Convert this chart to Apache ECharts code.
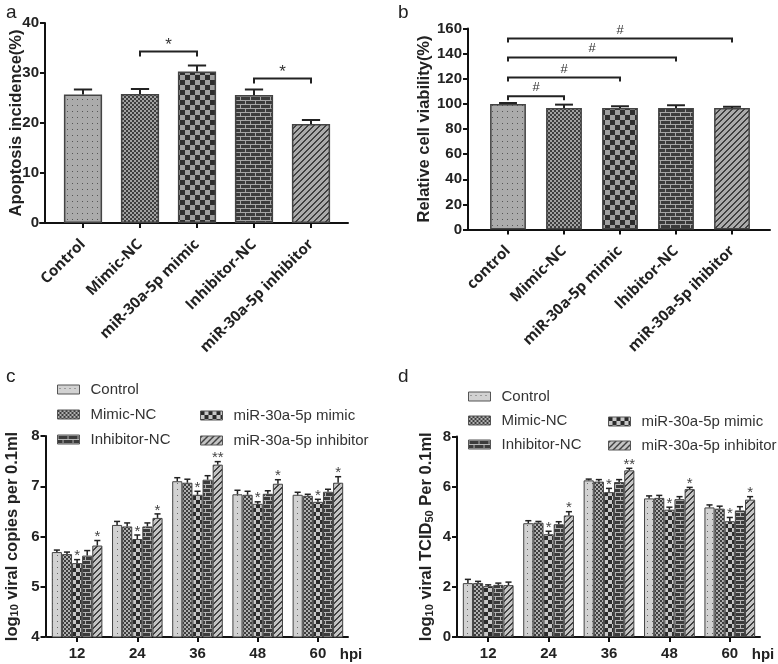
<!DOCTYPE html>
<html><head><meta charset="utf-8">
<script src="https://cdn.jsdelivr.net/npm/echarts@6/dist/echarts.min.js"></script>
<style>html,body{margin:0;padding:0;background:#fff}#c{width:778px;height:664px}</style>
</head><body><div id="c"></div>
<script>
// ---------- DATA ----------
const aCategories = ['Control', 'Mimic-NC', 'miR-30a-5p mimic', 'Inhibitor-NC', 'miR-30a-5p inhibitor'];
const aValues = [25.7, 25.8, 30.3, 25.6, 19.8];
const aErrors = [1.0, 1.0, 1.2, 1.1, 0.8];
const aBrackets = [[1, 2, 34.3, '*'], [3, 4, 28.9, '*']];

const bCategories = ['control', 'Mimic-NC', 'miR-30a-5p mimic', 'Ihibitor-NC', 'miR-30a-5p ihibitor'];
const bValues = [99.9, 96.8, 96.8, 96.8, 96.8];
const bErrors = [0.8, 2.6, 1.3, 2.1, 0.9];
const bBrackets = [[0, 1, 106, '#'], [0, 2, 121, '#'], [0, 3, 137, '#'], [0, 4, 152, '#']];

const hpiLabels = ['12', '24', '36', '48', '60'];
const groupNames = ['Control', 'Mimic-NC', 'miR-30a-5p mimic', 'Inhibitor-NC', 'miR-30a-5p inhibitor'];

// panel c: log10 viral copies per 0.1ml
const cControl   = [5.69, 6.23, 7.10, 6.84, 6.83];
const cMimicNC   = [5.65, 6.20, 7.07, 6.83, 6.81];
const cMimic     = [5.47, 5.95, 6.83, 6.65, 6.69];
const cInhibNC   = [5.62, 6.20, 7.13, 6.85, 6.89];
const cInhib     = [5.82, 6.37, 7.43, 7.05, 7.07];
const cControlErr = [0.04, 0.07, 0.07, 0.08, 0.05];
const cMimicNCErr = [0.04, 0.07, 0.07, 0.07, 0.03];
const cMimicErr   = [0.07, 0.08, 0.07, 0.04, 0.05];
const cInhibNCErr = [0.10, 0.07, 0.08, 0.06, 0.05];
const cInhibErr   = [0.10, 0.08, 0.06, 0.08, 0.12];
const cSigMimic = ['*', '*', '*', '*', '*'];
const cSigInhib = ['*', '*', '**', '*', '*'];

// panel d: log10 viral TCID50 per 0.1ml
const dControl   = [2.15, 4.54, 6.25, 5.53, 5.17];
const dMimicNC   = [2.15, 4.56, 6.20, 5.55, 5.12];
const dMimic     = [2.03, 4.10, 5.78, 5.08, 4.62];
const dInhibNC   = [2.08, 4.50, 6.18, 5.50, 5.05];
const dInhib     = [2.07, 4.85, 6.65, 5.90, 5.48];
const dControlErr = [0.15, 0.10, 0.05, 0.10, 0.10];
const dMimicNCErr = [0.07, 0.05, 0.08, 0.10, 0.10];
const dMimicErr   = [0.05, 0.12, 0.15, 0.10, 0.15];
const dInhibNCErr = [0.07, 0.10, 0.10, 0.10, 0.15];
const dInhibErr   = [0.12, 0.15, 0.08, 0.07, 0.12];
const dSigMimic = ['', '*', '*', '*', '*'];
const dSigInhib = ['', '*', '**', '*', '*'];

// ---------- PATTERNS ----------
function tile(w, h, paint) {
  const c = document.createElement('canvas'); c.width = w; c.height = h;
  const g = c.getContext('2d'); paint(g, w, h);
  return { image: c, repeat: 'repeat' };
}
function dots(bg, fg) { return tile(5, 6, g => { g.fillStyle = bg; g.fillRect(0, 0, 5, 6); g.fillStyle = fg; g.fillRect(2, 3, 1, 1); }); }
function checker(s, c1, c2) { return tile(2 * s, 2 * s, g => { g.fillStyle = c2; g.fillRect(0, 0, 2 * s, 2 * s); g.fillStyle = c1; g.fillRect(0, 0, s, s); g.fillRect(s, s, s, s); }); }
function brick(bg, fg) { return tile(10, 8, g => { g.fillStyle = bg; g.fillRect(0, 0, 10, 8); g.fillStyle = fg; g.fillRect(0, 0, 10, 1); g.fillRect(0, 4, 10, 1); g.fillRect(0, 0, 1, 4); g.fillRect(5, 4, 1, 4); }); }
function hatch(bg, fg) { return tile(6, 6, g => { g.fillStyle = bg; g.fillRect(0, 0, 6, 6); g.fillStyle = fg; for (let x = 0; x < 6; x++) for (let y = 0; y < 6; y++) if ((x + y) % 6 < 2) g.fillRect(x, y, 1, 1); }); }

const patAB = [dots('#ababab', '#555'), checker(2, '#3e3e3e', '#a2a2a2'), checker(5, '#2e2e2e', '#9e9e9e'), brick('#3b3b3b', '#a5a5a5'), hatch('#ababab', '#404040')];
const patCD = [dots('#d2d2d2', '#666'), checker(2, '#3e3e3e', '#b0b0b0'), checker(4, '#2a2a2a', '#c8c8c8'), brick('#3b3b3b', '#b5b5b5'), hatch('#c4c4c4', '#404040')];

// ---------- RENDERERS ----------
const INK = '#222';
function errSingle(params, api) {
  const i = api.value(0), v = api.value(1), e = api.value(2);
  const p0 = api.coord([i, v]), p1 = api.coord([i, v + e]);
  const half = api.size([1, 0])[0] * 0.16;
  return { type: 'group', children: [
    { type: 'line', shape: { x1: p0[0], y1: p0[1], x2: p0[0], y2: p1[1] }, style: { stroke: INK, lineWidth: 2 } },
    { type: 'line', shape: { x1: p0[0] - half, y1: p1[1], x2: p0[0] + half, y2: p1[1] }, style: { stroke: INK, lineWidth: 2 } }
  ] };
}
function bracketRenderer(list, drop, fontSize, dy) {
  return function (params, api) {
    const b = list[params.dataIndex];
    const pA = api.coord([b[0], b[2]]), pB = api.coord([b[1], b[2]]);
    return { type: 'group', children: [
      { type: 'polyline', shape: { points: [[pA[0], pA[1] + drop], [pA[0], pA[1]], [pB[0], pB[1]], [pB[0], pB[1] + drop]] }, style: { stroke: INK, lineWidth: 2, fill: null } },
      { type: 'text', style: { text: b[3], x: (pA[0] + pB[0]) / 2, y: pA[1] + dy, align: 'center', verticalAlign: 'bottom', fontSize: fontSize, fontFamily: 'Liberation Sans', fill: '#333' } }
    ] };
  };
}
const GAP = 0.16;
function groupErrRenderer(labels) {
  return function (params, api) {
    const k = api.value(0), s = api.value(1), v = api.value(2), e = api.value(3);
    const band = api.size([1, 0])[0];
    const gw = band * (1 - GAP), bw = gw / 5;
    const p0 = api.coord([k, v]), p1 = api.coord([k, v + e]);
    const x = p0[0] - gw / 2 + bw * (s + 0.5);
    const ch = [
      { type: 'line', shape: { x1: x, y1: p0[1], x2: x, y2: p1[1] }, style: { stroke: INK, lineWidth: 1.5 } },
      { type: 'line', shape: { x1: x - bw * 0.3, y1: p1[1], x2: x + bw * 0.3, y2: p1[1] }, style: { stroke: INK, lineWidth: 1.5 } }
    ];
    const lab = labels[params.dataIndex];
    if (lab) ch.push({ type: 'text', style: { text: lab, x: x, y: p1[1] + 4, align: 'center', verticalAlign: 'bottom', fontSize: 15, fontFamily: 'Liberation Sans', fill: '#444' } });
    return { type: 'group', children: ch };
  };
}

function groupData(vals, errs, sigs) {
  const data = [], labels = [];
  for (let s = 0; s < vals.length; s++) for (let k = 0; k < vals[s].length; k++) {
    data.push([k, s, vals[s][k], errs[s][k]]); labels.push(sigs[s][k]);
  }
  return { data, labels };
}
const none = ['', '', '', '', ''];
const cG = groupData([cControl, cMimicNC, cMimic, cInhibNC, cInhib], [cControlErr, cMimicNCErr, cMimicErr, cInhibNCErr, cInhibErr], [none, none, cSigMimic, none, cSigInhib]);
const dG = groupData([dControl, dMimicNC, dMimic, dInhibNC, dInhib], [dControlErr, dMimicNCErr, dMimicErr, dInhibNCErr, dInhibErr], [none, none, dSigMimic, none, dSigInhib]);

// ---------- AXES ----------
const axisLine = { show: true, lineStyle: { color: '#111', width: 2 } };
const axisTick = { show: true, length: 5, lineStyle: { color: '#111', width: 2 } };
const tickFont = { color: '#222', fontSize: 15, fontWeight: 'bold', fontFamily: 'Liberation Sans' };
function catX(grid, cats, extra) {
  return Object.assign({ type: 'category', gridIndex: grid, data: cats, axisLine, axisTick: Object.assign({ alignWithLabel: true }, axisTick), splitLine: { show: false } }, extra);
}
function extX(grid) { return { type: 'value', gridIndex: grid, min: 0, max: 1, axisLine, axisTick: { show: false }, axisLabel: { show: false }, splitLine: { show: false } }; }
function extY(grid) { return { type: 'value', gridIndex: grid, min: 0, max: 1, show: false }; }
function valY(grid, min, max, interval, offset, name, nameGap, fontSize, rich) {
  return { type: 'value', gridIndex: grid, min, max, interval, offset, axisLine, axisTick, splitLine: { show: false },
    axisLabel: Object.assign({ margin: 6 }, tickFont),
    name, nameLocation: 'middle', nameGap, nameMoveOverlap: false,
    nameTextStyle: { fontSize: fontSize, fontWeight: 'bold', fontFamily: 'Liberation Sans', color: '#222', rich: rich || {} } };
}
const rotLabel = { rotate: 45, margin: 19, color: '#222', fontSize: 15, fontWeight: 'bold', fontFamily: 'Open Sans' };
const hpiName = { name: 'hpi', nameLocation: 'end', nameGap: 3, nameMoveOverlap: false, nameTextStyle: { fontSize: 15, fontWeight: 'bold', fontFamily: 'Liberation Sans', color: '#222', align: 'center', verticalAlign: 'top', padding: [10, 0, 0, 0] } };
const subRich = { s: { fontSize: 11, fontWeight: 'bold', fontFamily: 'Liberation Sans', color: '#222', verticalAlign: 'bottom', padding: [6, 0, 0, 0] } };

function legendAt(data, left, top, gap) {
  return { data, left, top, orient: 'vertical', icon: 'rect', itemWidth: 22, itemHeight: 9, itemGap: gap, selectedMode: false,
    itemStyle: { borderColor: '#555', borderWidth: 1 },
    textStyle: { fontSize: 15, fontFamily: 'Liberation Sans', color: '#333', padding: [0, 0, 0, 6] } };
}

function barSeries(name, x, y, data, color) {
  return { type: 'bar', name, xAxisIndex: x, yAxisIndex: y, data, itemStyle: { color, borderColor: '#444', borderWidth: 1 }, barGap: '0%', barCategoryGap: (GAP * 100) + '%' };
}

const series = [
  { type: 'bar', xAxisIndex: 0, yAxisIndex: 0, barCategoryGap: '33%', data: aValues.map((v, i) => ({ value: v, itemStyle: { color: patAB[i] } })), itemStyle: { borderColor: '#444', borderWidth: 1.5 } },
  { type: 'custom', xAxisIndex: 0, yAxisIndex: 0, data: aValues.map((v, i) => [i, v, aErrors[i]]), encode: { x: 0, y: 1 }, renderItem: errSingle, z: 3 },
  { type: 'custom', xAxisIndex: 0, yAxisIndex: 0, data: aBrackets.map(b => [b[0], b[1], b[2]]), encode: { x: [0, 1], y: 2 }, renderItem: bracketRenderer(aBrackets, 5, 17, 2), z: 3 },
  { type: 'bar', xAxisIndex: 2, yAxisIndex: 2, barCategoryGap: '36%', data: bValues.map((v, i) => ({ value: v, itemStyle: { color: patAB[i] } })), itemStyle: { borderColor: '#444', borderWidth: 1.5 } },
  { type: 'custom', xAxisIndex: 2, yAxisIndex: 2, data: bValues.map((v, i) => [i, v, bErrors[i]]), encode: { x: 0, y: 1 }, renderItem: errSingle, z: 3 },
  { type: 'custom', xAxisIndex: 2, yAxisIndex: 2, data: bBrackets.map(b => [b[0], b[1], b[2]]), encode: { x: [0, 1], y: 2 }, renderItem: bracketRenderer(bBrackets, 4, 13, -2), z: 3 }
];
const cVals = [cControl, cMimicNC, cMimic, cInhibNC, cInhib];
const dVals = [dControl, dMimicNC, dMimic, dInhibNC, dInhib];
groupNames.forEach((n, s) => series.push(barSeries(n, 4, 4, cVals[s], patCD[s])));
series.push({ type: 'custom', xAxisIndex: 4, yAxisIndex: 4, data: cG.data, encode: { x: 0, y: 2 }, renderItem: groupErrRenderer(cG.labels), z: 3 });
groupNames.forEach((n, s) => series.push(barSeries(n, 5, 5, dVals[s], patCD[s])));
series.push({ type: 'custom', xAxisIndex: 5, yAxisIndex: 5, data: dG.data, encode: { x: 0, y: 2 }, renderItem: groupErrRenderer(dG.labels), z: 3 });

const letterStyle = { fontSize: 19, fontWeight: 'normal', fontFamily: 'Liberation Sans', color: '#222' };
const option = {
  animation: false,
  backgroundColor: '#fff',
  title: [
    { text: 'a', left: 1, top: -2, textStyle: letterStyle },
    { text: 'b', left: 393, top: -2, textStyle: letterStyle },
    { text: 'c', left: 1, top: 362, textStyle: letterStyle },
    { text: 'd', left: 393, top: 362, textStyle: letterStyle }
  ],
  legend: [
    legendAt(['Control', 'Mimic-NC', 'Inhibitor-NC'], 52, 377, 10),
    legendAt(['miR-30a-5p mimic', 'miR-30a-5p inhibitor'], 195, 403, 10),
    legendAt(['Control', 'Mimic-NC', 'Inhibitor-NC'], 463, 384, 9),
    legendAt(['miR-30a-5p mimic', 'miR-30a-5p inhibitor'], 603, 409, 9)
  ],
  grid: [
    { left: 54.5, width: 285, top: 23, height: 200 },
    { left: 40, width: 308, top: 23, height: 200 },
    { left: 480, width: 280, top: 28.5, height: 201 },
    { left: 465, width: 305, top: 28.5, height: 201 },
    { left: 47, width: 301, top: 436, height: 201 },
    { left: 458, width: 302, top: 436.5, height: 200.5 }
  ],
  xAxis: [
    catX(0, aCategories, { axisLabel: rotLabel }),
    extX(1),
    catX(2, bCategories, { axisLabel: rotLabel }),
    extX(3),
    catX(4, hpiLabels, Object.assign({ axisLabel: Object.assign({ margin: 9 }, tickFont) }, hpiName)),
    catX(5, hpiLabels, Object.assign({ axisLabel: Object.assign({ margin: 9 }, tickFont) }, hpiName))
  ],
  yAxis: [
    valY(0, 0, 40, 10, 9.5, 'Apoptosis incidence(%)', 20, 16.5),
    extY(1),
    valY(2, 0, 160, 20, 12, 'Relative cell viability(%)', 35, 16.5),
    extY(3),
    valY(4, 4, 8, 1, 1.5, 'log{s|10} viral copies per 0.1ml', 25, 16.5, subRich),
    valY(5, 0, 8, 2, 1, 'log{s|10} viral TCID{s|50} Per 0.1ml', 22, 16.5, subRich)
  ],
  series
};
const chart = echarts.init(document.getElementById('c'), null, { renderer: 'canvas' });
chart.setOption(option);
</script></body></html>
